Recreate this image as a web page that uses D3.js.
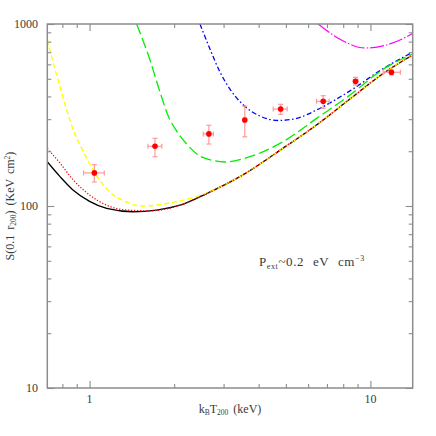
<!DOCTYPE html>
<html><head><meta charset="utf-8">
<script src="https://cdn.jsdelivr.net/npm/d3@7"></script>
<style>html,body{margin:0;padding:0;background:#fff;}svg{display:block;}</style>
</head><body>
<svg id="c" width="436" height="436"></svg>
<script>
// ---- data ----
const blackT = [0.707,0.785,0.875,1.0,1.15,1.43,1.73,2.1,2.61,3.43,4.89,6.43,8.45,11.1,14.13];
const blackS = [175,145,122,106,97,93,95,101,117,145,208,279,387,535,676];
const redT = [0.707,0.785,0.875,1.0,1.15,1.36,1.64,2.1,2.61,3.43,4.89,6.43,8.45,11.1,14.13];
const redS = [207,172,139,115,101,95,94,101,117,145,208,279,387,535,676];
const yellowT = [0.707,0.743,0.785,0.829,0.875,0.95,1.045,1.163,1.337,1.549,1.81,1.933,2.277,2.757,3.43,4.89,6.43,8.45,11.1,14.13];
const yellowS = [817,608,452,337,262,199,152,122,106,100,102,104,110,122,145,208,279,387,535,676];
const greenT = [1.471,1.641,1.781,1.906,2.042,2.217,2.472,2.75,3.034,3.526,4.893,6.434,8.453,11.11,14.13];
const greenS = [1000,634,423,312,258,219,188,178,174.5,182,226,303,407,565,683];
const blueT = [2.472,2.683,2.912,3.161,3.526,4.044,4.697,5.463,6.434,8.453,11.11,14.13];
const blueS = [1000,729,545,439,359,312,295,303,337,429,569,699];
const magentaT = [6.52,7.18,8.0,9.56,11.42,13.09,14.13];
const magentaS = [1000,893,807,738,767,833,887];

const obsT = [1.04,1.71,2.66,3.57,4.79,6.79,8.85,11.88];
const obsS = [152,213,249,297,341,376,484,543];
const obsTlo = [0.952,1.613,2.54,3.53,4.507,6.43,8.70,11.09];
const obsThi = [1.128,1.808,2.759,3.61,5.053,7.13,9.03,12.79];
const obsSlo = [135.5,186.5,219,240,319,344,462,525];
const obsShi = [168.6,235.5,277.6,354,362,403.7,509,559];

const xMajor = [1,10];
const xMinor = [0.8,0.9,2,3,4,5,6,7,8,9];
const yMajor = [10,100,1000];
const yMinor = [20,30,40,50,60,70,80,90,200,300,400,500,600,700,800,900];

// ---- layout ----
const W=436,H=436, L=47.3, R=412.7, T=24, B=388;
const svg = d3.select("#c");
const x = d3.scaleLog().domain([Math.SQRT1_2, 10*Math.SQRT2]).range([L,R]);
const y = d3.scaleLog().domain([10,1000]).range([B,T]);
const font = "'Liberation Serif','DejaVu Serif',serif";
const axisCol = "#8c8c8c", textCol = "#3a3a3a";

svg.append("defs").append("clipPath").attr("id","clip")
  .append("rect").attr("x",L).attr("y",T).attr("width",R-L).attr("height",B-T);

// curves
const line = d3.line().x(d=>x(d[0])).y(d=>y(d[1])).curve(d3.curveMonotoneX);
const g = svg.append("g").attr("clip-path","url(#clip)");
function curve(ts, ss, col, dash, w){
  g.append("path").datum(ts.map((t,i)=>[t,ss[i]]))
   .attr("d",line).attr("fill","none").attr("stroke",col)
   .attr("stroke-width",w).attr("stroke-dasharray",dash);
}
curve(magentaT, magentaS, "#ff00ff", "14,2,1.5,2", 1.2);
curve(blueT, blueS, "#0000ff", "5,2.5,1.5,2.5", 1.3);
curve(greenT, greenS, "#00ee00", "11,4", 1.3);
curve(blackT, blackS, "#000000", null, 1.3);
curve(yellowT, yellowS, "#ffff00", "5,3", 1.4);
curve(redT, redS, "#ff0000", "1.2,1.8", 1.3);

// data points with error bars
const ep = svg.append("g");
const ecol = "#ff9a9a";
obsT.forEach((t,i)=>{
  const cx=x(t), cy=y(obsS[i]);
  const x0=x(obsTlo[i]), x1=x(obsThi[i]), y0=y(obsSlo[i]), y1=y(obsShi[i]);
  ep.append("line").attr("x1",x0).attr("x2",x1).attr("y1",cy).attr("y2",cy).attr("stroke",ecol).attr("stroke-width",1.2);
  ep.append("line").attr("x1",cx).attr("x2",cx).attr("y1",y0).attr("y2",y1).attr("stroke",ecol).attr("stroke-width",1.2);
  [x0,x1].forEach(xx=>ep.append("line").attr("x1",xx).attr("x2",xx).attr("y1",cy-2.5).attr("y2",cy+2.5).attr("stroke",ecol).attr("stroke-width",1.2));
  [y0,y1].forEach(yy=>ep.append("line").attr("x1",cx-2.5).attr("x2",cx+2.5).attr("y1",yy).attr("y2",yy).attr("stroke",ecol).attr("stroke-width",1.2));
  ep.append("circle").attr("cx",cx).attr("cy",cy).attr("r",2.8).attr("fill","#ff0000");
});

// frame
svg.append("rect").attr("x",L).attr("y",T).attr("width",R-L).attr("height",B-T)
  .attr("fill","none").attr("stroke",axisCol).attr("stroke-width",1.5);

// ticks via d3 axes (inward)
function ax(gen, tr, vals, size){
  const a = svg.append("g").attr("transform",tr)
   .call(gen.tickValues(vals).tickSize(size).tickFormat(""));
  a.select(".domain").remove();
  a.selectAll("line").attr("stroke",axisCol).attr("stroke-width",1.1);
}
ax(d3.axisTop(x), `translate(0,${B})`, xMajor, 7);
ax(d3.axisTop(x), `translate(0,${B})`, xMinor, 4);
ax(d3.axisBottom(x), `translate(0,${T})`, xMajor, 7);
ax(d3.axisBottom(x), `translate(0,${T})`, xMinor, 4);
ax(d3.axisRight(y), `translate(${L},0)`, yMajor, 7);
ax(d3.axisRight(y), `translate(${L},0)`, yMinor, 4);
ax(d3.axisLeft(y), `translate(${R},0)`, yMajor, 7);
ax(d3.axisLeft(y), `translate(${R},0)`, yMinor, 4);

// tick labels
const lab = svg.append("g").attr("font-family",font).attr("font-size",12).attr("fill",textCol);
yMajor.forEach(v=>lab.append("text").attr("x",38).attr("y",y(v)+4).attr("text-anchor","end").text(v));
xMajor.forEach(v=>lab.append("text").attr("x",x(v)).attr("y",403).attr("text-anchor","middle").text(v));

// axis titles
const xt = svg.append("text").attr("font-family",font).attr("font-size",12).attr("fill",textCol)
  .attr("x",230).attr("y",413).attr("text-anchor","middle").attr("word-spacing",2);
xt.append("tspan").text("k");
xt.append("tspan").attr("font-size",7.5).attr("dy",2).text("B");
xt.append("tspan").attr("dy",-2).text("T");
xt.append("tspan").attr("font-size",7.5).attr("dy",2).text("200");
xt.append("tspan").attr("dy",-2).text(" (keV)");

const yt = svg.append("text").attr("font-family",font).attr("font-size",12).attr("fill",textCol)
  .attr("word-spacing",2)
  .attr("transform",`translate(14,${(T+B)/2}) rotate(-90)`).attr("text-anchor","middle");
yt.append("tspan").text("S(0.1 r");
yt.append("tspan").attr("font-size",7.5).attr("dy",2).text("200");
yt.append("tspan").attr("dy",-2).text(") (KeV cm");
yt.append("tspan").attr("font-size",7.5).attr("dy",-4).text("2");
yt.append("tspan").attr("dy",4).text(")");

// annotation
const an = svg.append("text").attr("font-family",font).attr("font-size",13).attr("fill",textCol)
  .attr("x",259).attr("y",266).attr("word-spacing",5).attr("letter-spacing",0.6);
an.append("tspan").text("P");
an.append("tspan").attr("font-size",8).attr("dy",3).text("ext");
an.append("tspan").attr("dy",-3).text("~0.2 eV cm");
an.append("tspan").attr("font-size",8).attr("dy",-5).text("−3");
</script>
</body></html>
